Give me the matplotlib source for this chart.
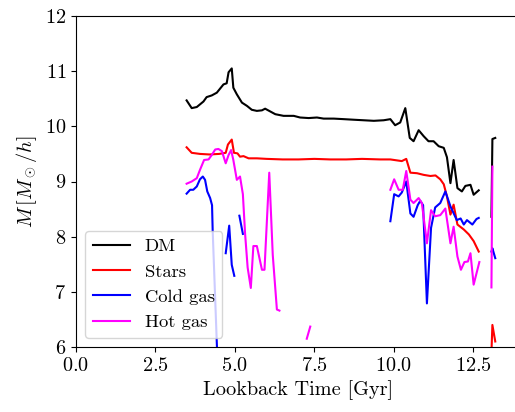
import matplotlib
matplotlib.use('Agg')
import matplotlib.pyplot as plt
import numpy as np

nan = np.nan

# lookback time [Gyr] and log mass for each component (nan = gap)
t_dm = [3.48, 3.64, 3.80, 4.01, 4.11, 4.27, 4.43, 4.64, 4.74, 4.80, 4.90, 4.95,
        5.06, 5.22, 5.38, 5.53, 5.69, 5.85, 5.95, 6.11, 6.27, 6.53, 6.85, 7.05,
        7.32, 7.58, 7.79, 8.11, 8.43, 8.73, 9.05, 9.37, 9.68, 9.89, 10.04, 10.20,
        10.36, 10.50, 10.62, 10.78, 10.94, 11.09, 11.25, 11.41, 11.57, 11.67,
        11.78, 11.88, 12.00, 12.14, 12.25, 12.41, 12.51, 12.67, 12.85, 13.07,
        13.10, 13.19]
m_dm = [10.47, 10.33, 10.35, 10.45, 10.53, 10.56, 10.61, 10.76, 10.78, 10.98,
        11.05, 10.70, 10.58, 10.43, 10.37, 10.30, 10.28, 10.29, 10.32, 10.27,
        10.22, 10.19, 10.19, 10.16, 10.15, 10.16, 10.14, 10.14, 10.13, 10.12,
        10.11, 10.10, 10.11, 10.13, 10.02, 10.07, 10.33, 9.79, 9.73, 9.93, 9.82,
        9.73, 9.73, 9.64, 9.61, 9.44, 8.97, 9.39, 8.88, 8.82, 8.92, 8.94, 8.76,
        8.84, nan, 8.36, 9.77, 9.79]

t_st = [3.48, 3.64, 3.90, 4.20, 4.50, 4.71, 4.78, 4.90, 4.97, 5.08, 5.16, 5.27,
        5.43, 5.69, 6.00, 6.50, 7.00, 7.50, 8.00, 8.50, 9.00, 9.57, 9.89, 10.25,
        10.39, 10.52, 10.73, 10.94, 11.15, 11.31, 11.46, 11.57, 11.67, 11.78,
        11.88, 12.00, 12.20, 12.36, 12.51, 12.67, 12.85, 13.07, 13.10, 13.19]
m_st = [9.62, 9.52, 9.50, 9.49, 9.50, 9.52, 9.67, 9.76, 9.52, 9.51, 9.45, 9.46,
        9.42, 9.42, 9.41, 9.40, 9.40, 9.41, 9.40, 9.40, 9.41, 9.40, 9.40, 9.37,
        9.41, 9.16, 9.15, 9.12, 9.10, 9.11, 9.04, 8.95, 8.73, 8.40, 8.58, 8.22,
        8.13, 8.04, 7.92, 7.73, nan, 5.90, 6.40, 6.10]

t_cg = [3.48, 3.59, 3.69, 3.80, 3.90, 3.99, 4.06, 4.13, 4.22, 4.28, 4.30, 4.46,
        4.55, 4.71, 4.82, 4.90, 4.98, 5.06, 5.14, 5.25, 5.40, 9.89, 10.01, 10.15,
        10.25, 10.39, 10.52, 10.62, 10.75, 10.83, 10.92, 11.04, 11.17, 11.30,
        11.46, 11.62, 11.78, 11.98, 12.10, 12.20, 12.30, 12.47, 12.60, 12.67,
        12.85, 13.07, 13.10, 13.19]
m_cg = [8.78, 8.85, 8.85, 8.91, 9.04, 9.09, 9.03, 8.82, 8.70, 8.57, 8.11, 5.60,
        nan, 7.70, 8.20, 7.49, 7.29, nan, 8.38, 8.05, nan, 8.28, 8.77, 8.73, 8.80,
        9.00, 8.42, 8.36, 8.57, 8.65, 8.57, 6.79, 8.16, 8.53, 8.61, 8.82, 8.55,
        8.30, 8.33, 8.22, 8.30, 8.22, 8.32, 8.34, nan, 7.73, 7.79, 7.61]

t_hg = [3.48, 3.64, 3.80, 3.90, 4.03, 4.17, 4.27, 4.38, 4.48, 4.59, 4.71, 4.80,
        4.88, 4.95, 5.06, 5.16, 5.25, 5.32, 5.40, 5.50, 5.58, 5.69, 5.85, 5.93,
        6.08, 6.19, 6.32, 6.40, 6.80, 7.26, 7.37, 7.60, 9.89, 10.01, 10.15, 10.28,
        10.39, 10.52, 10.62, 10.78, 10.88, 11.04, 11.17, 11.30, 11.46, 11.62,
        11.78, 11.88, 12.00, 12.11, 12.22, 12.33, 12.41, 12.51, 12.69, 12.85,
        13.07, 13.10]
m_hg = [8.96, 9.00, 9.06, 9.21, 9.39, 9.40, 9.48, 9.58, 9.59, 9.55, 9.33, 9.48,
        9.57, 9.39, 9.03, 9.09, 8.77, 8.05, 7.44, 7.07, 7.83, 7.83, 7.40, 7.40,
        9.16, 7.67, 6.68, 6.66, nan, 6.15, 6.37, nan, 8.85, 9.04, 8.85, 8.85, 9.19,
        8.67, 8.61, 8.70, 8.61, 7.88, 8.48, 8.37, 8.39, 8.51, 7.88, 8.18, 7.64,
        7.40, 7.54, 7.55, 7.70, 7.13, 7.54, nan, 7.08, 9.27]

plt.rcParams['font.family'] = 'serif'
plt.rcParams['font.serif'] = ['cmr10']
plt.rcParams['mathtext.fontset'] = 'cm'
plt.rcParams['axes.formatter.use_mathtext'] = True
plt.rcParams['font.size'] = 14.6

fig = plt.figure(figsize=(5.15, 4.12), dpi=100)
ax = fig.add_axes([76/515., 65/412., 445/515., 331/412.])

ax.plot(t_dm, m_dm, color='black', lw=1.5, label='DM')
ax.plot(t_st, m_st, color='red', lw=1.5, label='Stars')
ax.plot(t_cg, m_cg, color='blue', lw=1.5, label='Cold gas')
ax.plot(t_hg, m_hg, color='magenta', lw=1.5, label='Hot gas')

ax.set_xlim(0, 14)
ax.set_ylim(6, 12)
ax.set_xticks([0, 2.5, 5, 7.5, 10, 12.5])
ax.set_xlabel('Lookback Time [Gyr]')
ax.set_ylabel(r'$M\,[M_\odot/h]$')
ax.legend(loc='lower left', fontsize=13.4)

fig.savefig('out.png', dpi=100)
